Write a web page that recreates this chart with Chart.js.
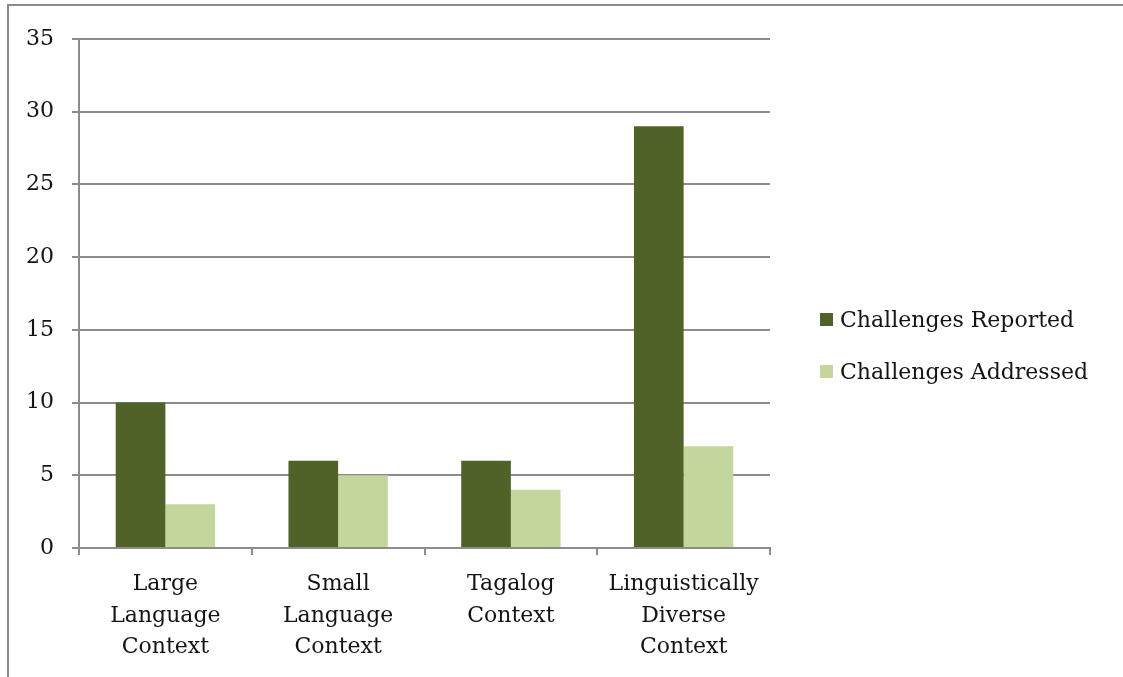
<!DOCTYPE html>
<html>
<head>
<meta charset="utf-8">
<title>Challenges Reported and Addressed by Context</title>
<script src="https://cdn.jsdelivr.net/npm/chart.js@4.4.1/dist/chart.umd.min.js"></script>
<style>
  html, body { margin: 0; padding: 0; background: #fff; overflow: hidden; }
  #wrap { position: relative; width: 1123px; height: 677px; overflow: hidden; }
  #chart { position: absolute; left: 0; top: 0; }
  #frame {
    position: absolute; left: 7px; top: 4px; width: 1116px; height: 673px;
    border-top: 2px solid #8a8a8a; border-left: 2px solid #8a8a8a;
    box-sizing: border-box; pointer-events: none;
  }
</style>
</head>
<body>
<div id="wrap">
  <canvas id="chart" width="1123" height="677"></canvas>
  <div id="frame"></div>
</div>
<script>
// Categories (multi-line axis labels)
const categories = [
  ["Large", "Language", "Context"],
  ["Small", "Language", "Context"],
  ["Tagalog", "Context"],
  ["Linguistically", "Diverse", "Context"]
];
const seriesNames = ["Challenges Reported", "Challenges Addressed"];
const challengesReported = [10, 6, 6, 29];
const challengesAddressed = [3, 5, 4, 7];
const yTicks = [0, 5, 10, 15, 20, 25, 30, 35];

const colors = ["#4f6228", "#c3d69b"];
const FONT = "'DejaVu Serif', 'Liberation Serif', serif";
const textColor = "#141414";
const gridColor = "#8c8c8c";

// Legend drawn to the right of the plot area
const sideLegend = {
  id: "sideLegend",
  afterDraw(chart) {
    const ctx = chart.ctx;
    const x = chart.chartArea.right + 50;
    const rows = [321, 373];
    ctx.save();
    ctx.font = "22px " + FONT;
    ctx.textBaseline = "middle";
    ctx.textAlign = "left";
    chart.data.datasets.forEach((ds, i) => {
      const y = rows[i];
      ctx.fillStyle = ds.backgroundColor;
      ctx.fillRect(x, y - 8, 13, 13);
      ctx.fillStyle = textColor;
      ctx.fillText(ds.label, x + 20, y);
    });
    ctx.restore();
  }
};

new Chart(document.getElementById("chart"), {
  type: "bar",
  data: {
    labels: categories,
    datasets: [
      { label: seriesNames[0], data: challengesReported, backgroundColor: colors[0] },
      { label: seriesNames[1], data: challengesAddressed, backgroundColor: colors[1] }
    ]
  },
  options: {
    responsive: false,
    animation: false,
    layout: { padding: { left: 0, top: 39, right: 353, bottom: 0 } },
    datasets: { bar: { categoryPercentage: 0.575, barPercentage: 1.0 } },
    plugins: { legend: { display: false }, tooltip: { enabled: false } },
    scales: {
      x: {
        offset: true,
        grid: {
          offset: true,
          drawOnChartArea: false,
          drawTicks: true,
          tickLength: 7,
          color: gridColor,
          lineWidth: 2
        },
        border: { display: true, color: gridColor, width: 2 },
        ticks: {
          color: textColor,
          font: { family: FONT, size: 22, lineHeight: 1.45 },
          padding: 13,
          maxRotation: 0,
          autoSkip: false
        },
        afterFit(scale) { scale.height = 129; }
      },
      y: {
        min: 0,
        max: 35,
        afterBuildTicks(scale) { scale.ticks = yTicks.map(v => ({ value: v })); },
        grid: {
          color: gridColor,
          lineWidth: 2,
          drawTicks: true,
          tickLength: 7
        },
        border: { display: true, color: gridColor, width: 2 },
        ticks: {
          color: textColor,
          font: { family: FONT, size: 22 },
          padding: 18
        },
        afterFit(scale) { scale.width = 79; }
      }
    }
  },
  plugins: [sideLegend]
});
</script>
</body>
</html>
